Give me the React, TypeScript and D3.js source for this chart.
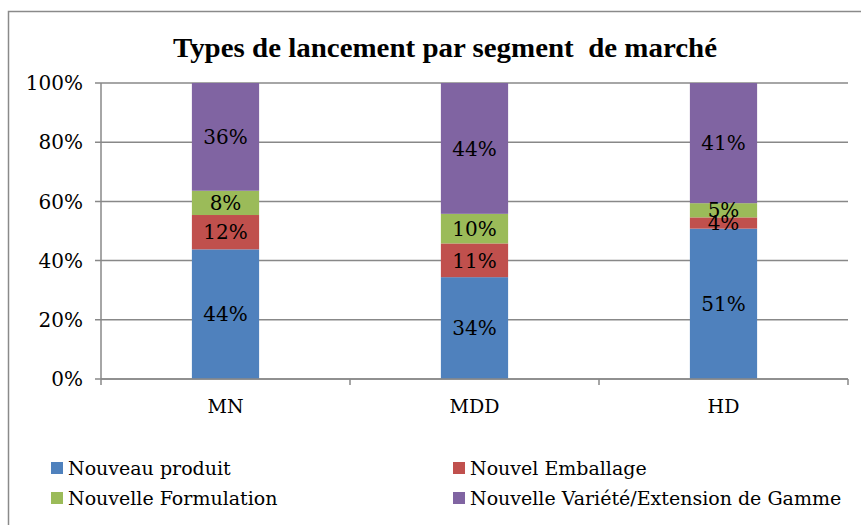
import React from "react";
import * as d3 from "d3";

const categories = ["MN", "MDD", "HD"];
const seriesNames = [
  "Nouveau produit",
  "Nouvel Emballage",
  "Nouvelle Formulation",
  "Nouvelle Variété/Extension de Gamme",
];
const seriesColors = ["#4F81BD", "#C0504D", "#9BBB59", "#8064A2"];
const nouveauProduit = [43.8, 34.4, 50.8];
const nouvelEmballage = [11.6, 11.4, 3.8];
const nouvelleFormulation = [8.2, 10.0, 4.8];
const nouvelleVariete = [36.4, 44.2, 40.6];
const yTicks = [0, 20, 40, 60, 80, 100];
const title = "Types de lancement par segment  de marché";

const W = 861;
const H = 525;
const plot = { left: 101, right: 848, top: 83, bottom: 379 };
const font = "'DejaVu Serif', serif";
const gridColor = "#888888";

export default function App() {
  const x = d3
    .scaleBand<string>()
    .domain(categories)
    .range([plot.left, plot.right])
    .paddingInner(0.73)
    .paddingOuter(0.365);
  const y = d3.scaleLinear().domain([0, 100]).range([plot.bottom, plot.top]);

  const series = [nouveauProduit, nouvelEmballage, nouvelleFormulation, nouvelleVariete];
  const rows = categories.map((c, i) => {
    const r: any = { cat: c };
    seriesNames.forEach((s, k) => (r[s] = series[k][i]));
    return r;
  });
  const stacked = d3.stack<any>().keys(seriesNames)(rows);

  const step = x.step();
  const boundaries = d3.range(categories.length + 1).map((i) => plot.left + i * step);

  const legend = [
    { name: seriesNames[0], color: seriesColors[0], lx: 51, ly: 475 },
    { name: seriesNames[1], color: seriesColors[1], lx: 453, ly: 475 },
    { name: seriesNames[2], color: seriesColors[2], lx: 51, ly: 505 },
    { name: seriesNames[3], color: seriesColors[3], lx: 453, ly: 505 },
  ];

  return (
    <svg
      width={W}
      height={H}
      style={{ position: "absolute", left: 0, top: 0, background: "#fff" }}
    >
      <rect x={0} y={0} width={W} height={H} fill="#fff" />
      <rect x={8.5} y={11.5} width={W + 10} height={H + 10} fill="none" stroke="#8a8a8a" strokeWidth={1.5} />
      <text
        x={445}
        y={57}
        textAnchor="middle"
        fontFamily="'Liberation Serif', serif"
        fontWeight="bold"
        fontSize={27}
        textLength={544}
        lengthAdjust="spacingAndGlyphs"
        style={{ whiteSpace: "pre" }}
        fill="#000"
      >
        {title}
      </text>
      {yTicks.map((t) => (
        <g key={t}>
          <line x1={95} x2={plot.right} y1={y(t)} y2={y(t)} stroke={gridColor} strokeWidth={1.5} />
          <text
            x={83}
            y={y(t)}
            dy="0.36em"
            textAnchor="end"
            fontFamily={font}
            fontSize={20}
            fill="#000"
          >
            {t}%
          </text>
        </g>
      ))}
      <line x1={plot.left} x2={plot.left} y1={plot.top} y2={plot.bottom + 6} stroke={gridColor} strokeWidth={1.5} />
      {boundaries.slice(1).map((b, i) => (
        <line key={i} x1={b} x2={b} y1={plot.bottom} y2={plot.bottom + 6} stroke={gridColor} strokeWidth={1.5} />
      ))}
      {stacked.map((layer, k) =>
        layer.map((d, i) => {
          const x0 = x(categories[i])!;
          const y0 = y(d[1]);
          const h = y(d[0]) - y(d[1]);
          return (
            <rect
              key={`${k}-${i}`}
              x={x0}
              y={y0}
              width={x.bandwidth()}
              height={h}
              fill={seriesColors[k]}
            />
          );
        })
      )}
      <line x1={plot.left} x2={plot.right} y1={plot.bottom} y2={plot.bottom} stroke={gridColor} strokeWidth={1.5} />
      {stacked.map((layer, k) =>
        layer.map((d, i) => (
          <text
            key={`l${k}-${i}`}
            x={x(categories[i])! + x.bandwidth() / 2}
            y={(y(d[0]) + y(d[1])) / 2}
            dy="0.36em"
            textAnchor="middle"
            fontFamily={font}
            fontSize={20}
            fill="#000"
          >
            {Math.round(d[1] - d[0])}%
          </text>
        ))
      )}
      {categories.map((c) => (
        <text
          key={c}
          x={x(c)! + x.bandwidth() / 2}
          y={413}
          textAnchor="middle"
          fontFamily={font}
          fontSize={19}
          fill="#000"
        >
          {c}
        </text>
      ))}
      {legend.map((l) => (
        <g key={l.name}>
          <rect x={l.lx} y={l.ly - 13} width={12} height={12} fill={l.color} />
          <text x={l.lx + 17} y={l.ly} fontFamily={font} fontSize={19} fill="#000">
            {l.name}
          </text>
        </g>
      ))}
    </svg>
  );
}
